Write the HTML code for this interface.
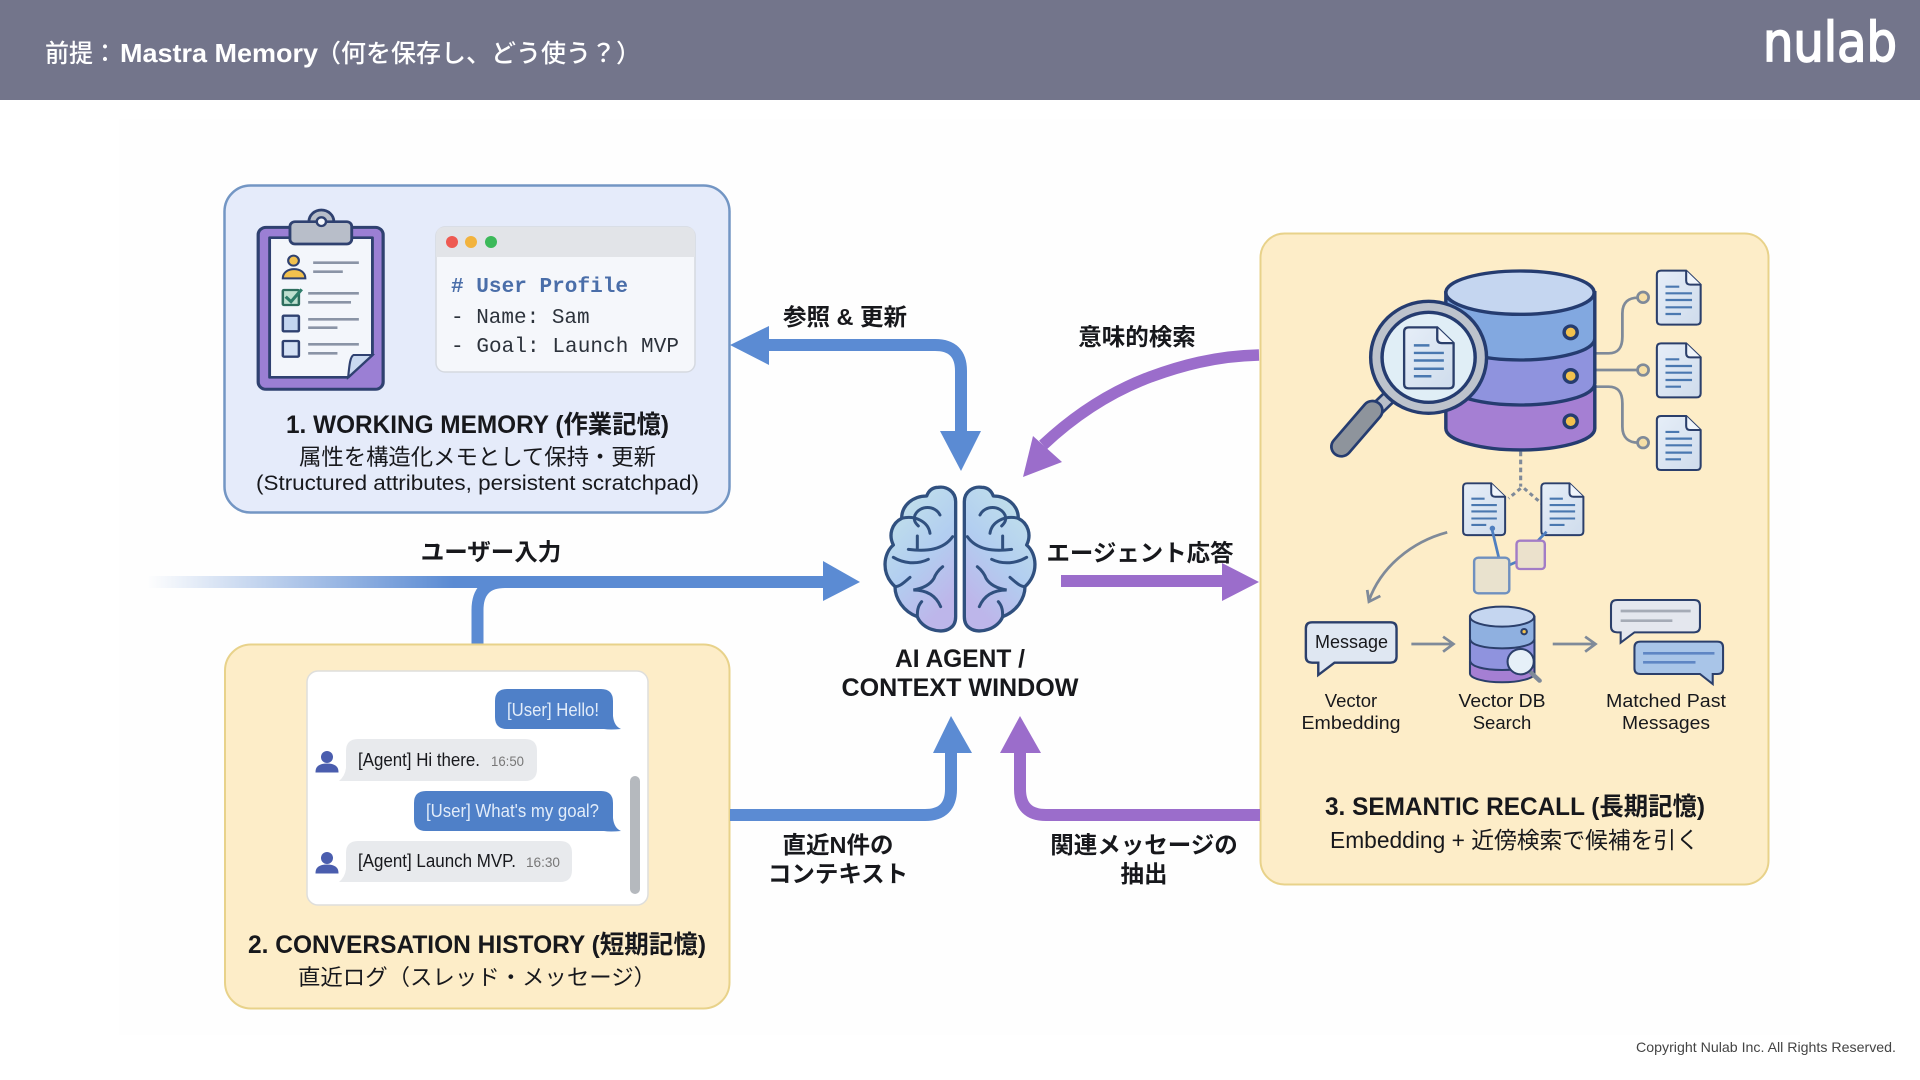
<!DOCTYPE html>
<html lang="ja"><head><meta charset="utf-8"><title>Mastra Memory</title>
<style>
html,body{margin:0;padding:0;background:#fff;width:1920px;height:1080px;overflow:hidden}
svg{display:block}
text{font-family:"Liberation Sans","Noto Sans CJK JP",sans-serif;fill:#17181c}
.b{font-weight:700}
.m{font-family:"Liberation Mono",monospace;font-size:21px;fill:#2C323B}
</style></head><body>
<svg width="1920" height="1080" viewBox="0 0 1920 1080" xmlns="http://www.w3.org/2000/svg">
<defs>
<linearGradient id="fade" x1="0" x2="1" y1="0" y2="0"><stop offset="0" stop-color="#5B8BD3" stop-opacity="0"/><stop offset=".45" stop-color="#5B8BD3"/><stop offset="1" stop-color="#5B8BD3"/></linearGradient>
<linearGradient id="brainf" x1="0" x2=".5" y1="0" y2="1"><stop offset="0" stop-color="#C6E6E9"/><stop offset=".6" stop-color="#B2CEF0"/><stop offset="1" stop-color="#BDB6EA"/></linearGradient>
<linearGradient id="docf" x1="0" x2="1" y1="0" y2="1"><stop offset="0" stop-color="#E6EEF8"/><stop offset="1" stop-color="#CFDCEC"/></linearGradient>
<g id="doc">
<path d="M12 0H85L127 42V150Q127 162 115 162H12Q0 162 0 150V12Q0 0 12 0Z" fill="url(#docf)" stroke="#2B3F6B" stroke-width="6"/>
<path d="M85 0V30Q85 42 97 42H127" fill="#F0F5FB" stroke="#2B3F6B" stroke-width="6"/>
<path d="M25 48H65M25 68H102M25 88H102M25 110H102M25 130H70" stroke="#4A78B0" stroke-width="6.500" fill="none"/>
</g>
<g id="brainhalf">
<path d="M287 95C287 65 260 48 235 52C215 52 205 65 200 78C160 78 125 105 125 145C95 160 85 195 100 225C70 250 62 310 105 350C105 385 130 425 172 440C185 475 240 495 270 475C282 468 287 455 287 440Z" fill="url(#brainf)" stroke="#30507F" stroke-width="10" stroke-linejoin="round"/>
<path d="M240 135C225 105 180 105 165 135C160 150 165 158 175 168M125 145C165 135 205 155 210 190M278 200C250 240 200 245 145 238M172 198V235M100 262C130 280 170 285 205 268M105 350C120 350 135 335 150 322M248 290C235 300 225 315 222 325C210 345 190 355 160 360C190 360 225 370 242 410M185 395C172 410 172 425 172 440" fill="none" stroke="#30507F" stroke-width="9" stroke-linecap="round"/>
</g>
</defs>

<rect width="1920" height="1080" fill="#fff"/>
<rect x="119" y="119" width="1681" height="916" fill="#FEFEFE"/>
<rect width="1920" height="100" fill="#73758B"/>
<text x="45" y="62" font-size="25" textLength="72" lengthAdjust="spacingAndGlyphs" style="fill:#fff;font-weight:500">前提：</text>
<text x="120" y="62" font-size="26" textLength="198" lengthAdjust="spacingAndGlyphs" style="fill:#fff;font-weight:700">Mastra Memory</text>
<text x="316" y="62" font-size="25" textLength="325" lengthAdjust="spacingAndGlyphs" style="fill:#fff;font-weight:500">（何を保存し、どう使う？）</text>
<text x="1763" y="61" font-size="54" textLength="134" lengthAdjust="spacingAndGlyphs" style="font-family:'DejaVu Sans',sans-serif;fill:#fff;stroke:#fff;stroke-width:1.800">nulab</text>
<text x="1636" y="1052" font-size="14" textLength="260" lengthAdjust="spacingAndGlyphs" style="fill:#444">Copyright  Nulab Inc. All Rights Reserved.</text>

<!-- Box 1 -->
<rect x="224.500" y="185.500" width="505" height="327" rx="26" fill="#E5EBFA" stroke="#7396C4" stroke-width="2.500"/>
<g transform="translate(200,170) scale(.357,.3333)">
<rect x="163" y="172" width="350" height="486" rx="22" fill="#9B7FD4" stroke="#2F4170" stroke-width="9"/>
<path d="M195 203H483V555L415 622H195Z" fill="#F3F6FB" stroke="#2F4170" stroke-width="8" stroke-linejoin="round"/>
<path d="M483 555L415 622C418 590 420 560 430 555Z" fill="#C9D9F0" stroke="#2F4170" stroke-width="6"/>
<circle cx="340" cy="155" r="35" fill="#B8BEC9" stroke="#2F4170" stroke-width="8"/>
<rect x="252" y="155" width="173" height="67" rx="14" fill="#B8BEC9" stroke="#2F4170" stroke-width="8"/>
<circle cx="340" cy="155" r="13" fill="#F3F6FB" stroke="#2F4170" stroke-width="7"/>
<circle cx="262" cy="272" r="15" fill="#F2C14E" stroke="#2F4170" stroke-width="6"/>
<path d="M232 325C232 288 295 288 295 325Z" fill="#F2C14E" stroke="#2F4170" stroke-width="6"/>
<rect x="232" y="360" width="45" height="45" rx="3" fill="#BFE0D0" stroke="#2E6E5E" stroke-width="7"/>
<path d="M240 380L255 395L285 358" fill="none" stroke="#2E7D6A" stroke-width="9"/>
<rect x="232" y="437" width="45" height="47" rx="3" fill="#C3D5F0" stroke="#2F4170" stroke-width="7"/>
<rect x="232" y="513" width="45" height="47" rx="3" fill="#D5E2F5" stroke="#2F4170" stroke-width="7"/>
<path d="M317 278H445M317 305H400M303 370H445M303 397H423M303 448H445M303 473H385M303 523H445M303 550H385" stroke="#8A94A6" stroke-width="8" fill="none"/>
</g>
<rect x="436" y="227" width="259" height="145" rx="9" fill="#F5F7FB" stroke="#D5D9E0" stroke-width="1.500"/>
<path d="M436 257V236Q436 227 445 227H686Q695 227 695 236V257Z" fill="#E2E4E8"/>
<circle cx="452" cy="242" r="6" fill="#EE5A52"/><circle cx="471" cy="242" r="6" fill="#F2B33D"/><circle cx="491" cy="242" r="6" fill="#3CB95A"/>
<text x="451" y="292" class="m" style="font-weight:700;fill:#4A6EA9" textLength="177"># User Profile</text>
<text x="451" y="323" class="m">- Name: Sam</text>
<text x="451" y="352" class="m" textLength="228">- Goal: Launch MVP</text>
<text x="286" y="433" class="b" font-size="25" textLength="383" lengthAdjust="spacingAndGlyphs">1. WORKING MEMORY (作業記憶)</text>
<text x="299" y="465" font-size="22.500" textLength="357" lengthAdjust="spacingAndGlyphs">属性を構造化メモとして保持・更新</text>
<text x="256" y="490" font-size="21.500" textLength="443" lengthAdjust="spacingAndGlyphs">(Structured attributes, persistent scratchpad)</text>

<!-- Box 2 -->
<path d="M477.500 650V610Q477.500 582 505 582H830" fill="none" stroke="#5B8BD3" stroke-width="12"/>
<rect x="225" y="644.500" width="504.500" height="364" rx="26" fill="#FDEDC8" stroke="#E8D28A" stroke-width="2"/>
<rect x="307" y="671" width="341" height="234" rx="11" fill="#fff" stroke="#DEDEDC" stroke-width="1.500"/>
<path d="M495 701Q495 689 507 689H601Q613 689 613 701V716Q614 726 621 729Q610 730 604 729H507Q495 729 495 717Z" fill="#4F80C8"/>
<text x="507" y="716" font-size="18" textLength="92" lengthAdjust="spacingAndGlyphs" style="fill:#E2ECF9">[User] Hello!</text>
<path d="M346 751Q346 739 358 739H525Q537 739 537 751V769Q537 781 525 781H339Q345 776 346 768Z" fill="#E8EAED"/>
<text x="358" y="766" font-size="18" textLength="122" lengthAdjust="spacingAndGlyphs">[Agent] Hi there.</text>
<text x="491" y="766" font-size="14" textLength="33" lengthAdjust="spacingAndGlyphs" style="fill:#777">16:50</text>
<circle cx="327" cy="757" r="6" fill="#4A5DAE"/><path d="M316 772Q316 764 327 764Q338 764 338 772Z" fill="#4A5DAE" stroke="#4A5DAE"/>
<path d="M414 803Q414 791 426 791H601Q613 791 613 803V818Q614 828 621 831Q610 832 604 831H426Q414 831 414 819Z" fill="#4F80C8"/>
<text x="426" y="817" font-size="18" textLength="173" lengthAdjust="spacingAndGlyphs" style="fill:#E2ECF9">[User] What's my goal?</text>
<path d="M346 853Q346 841 358 841H560Q572 841 572 853V870Q572 882 560 882H339Q345 877 346 869Z" fill="#E8EAED"/>
<text x="358" y="867" font-size="18" textLength="158" lengthAdjust="spacingAndGlyphs">[Agent] Launch MVP.</text>
<text x="526" y="867" font-size="14" textLength="34" lengthAdjust="spacingAndGlyphs" style="fill:#777">16:30</text>
<circle cx="327" cy="858" r="6" fill="#4A5DAE"/><path d="M316 873Q316 865 327 865Q338 865 338 873Z" fill="#4A5DAE" stroke="#4A5DAE"/>
<rect x="630" y="776" width="10" height="118" rx="5" fill="#B5B9BE"/>
<text x="248" y="953" class="b" font-size="25" textLength="458" lengthAdjust="spacingAndGlyphs">2. CONVERSATION HISTORY (短期記憶)</text>
<text x="298" y="985" font-size="22" textLength="358" lengthAdjust="spacingAndGlyphs">直近ログ（スレッド・メッセージ）</text>

<!-- Box 3 -->
<rect x="1260.500" y="233.500" width="508" height="651" rx="24" fill="#FDEDC8" stroke="#E8D28A" stroke-width="2"/>
<g transform="translate(1250,220) scale(.3448,.3333)">
<g fill="none" stroke="#7F8A99" stroke-width="8">
<path d="M1000 400H1040C1070 400 1080 380 1080 350V280C1080 245 1100 233 1125 233"/>
<path d="M1000 450H1125"/>
<path d="M1000 500H1040C1070 500 1080 520 1080 550V620C1080 655 1100 668 1125 668"/>
<circle cx="1140" cy="232" r="16" fill="#F6DFA6"/><circle cx="1140" cy="450" r="16" fill="#F6DFA6"/><circle cx="1140" cy="668" r="16" fill="#F6DFA6"/>
<path d="M785 695V800" stroke-dasharray="14 10" stroke-width="9"/>
<path d="M785 805L750 835M795 805L845 850" stroke-dasharray="12 10" stroke-width="9"/>
</g>
<use href="#doc" x="1180" y="152"/><use href="#doc" x="1180" y="370"/><use href="#doc" x="1180" y="588"/>
<g stroke="#253C70" stroke-width="10">
<path d="M568 500V625C568 665 680 690 783 690C890 690 1000 665 1000 625V500Z" fill="#A57FD3"/>
<path d="M568 360V490C568 530 680 555 783 555C890 555 1000 530 1000 490V360Z" fill="#8F93DE"/>
<path d="M568 218V355C568 395 680 420 783 420C890 420 1000 395 1000 355V218Z" fill="#82A8E0"/>
<ellipse cx="783" cy="218" rx="215" ry="65" fill="#C5D6F0"/>
<circle cx="930" cy="337" r="19" fill="#F2C14E"/><circle cx="930" cy="468" r="19" fill="#F2C14E"/><circle cx="930" cy="604" r="19" fill="#F2C14E"/>
</g>
<path d="M400 535L370 565" stroke="#253C70" stroke-width="46"/>
<path d="M400 535L370 565" stroke="#B8BEC9" stroke-width="30"/>
<path d="M355 572L265 680" stroke="#253C70" stroke-width="66" stroke-linecap="round"/>
<path d="M355 572L265 680" stroke="#8E949C" stroke-width="50" stroke-linecap="round"/>
<circle cx="518" cy="412" r="168" fill="#BDC3CC" stroke="#253C70" stroke-width="10"/>
<circle cx="518" cy="412" r="135" fill="#E0EEF6" stroke="#253C70" stroke-width="10"/>
<use href="#doc" transform="translate(447,322) scale(1.13)"/>
<use href="#doc" transform="translate(618,790) scale(.96)"/>
<use href="#doc" transform="translate(845,790) scale(.96)"/>
</g>
<g transform="translate(1250,470) scale(.3448,.3333)">
<path d="M700 170L722 265M752 285L775 275M835 212L860 185" stroke="#4F7FC0" stroke-width="8" fill="none"/>
<circle cx="703" cy="175" r="8" fill="#4F7FC0"/>
<rect x="650" y="263" width="102" height="107" rx="12" fill="#E9E2CE" stroke="#6F90BF" stroke-width="7"/>
<rect x="773" y="212" width="82" height="85" rx="10" fill="#EBE1CC" stroke="#A27CC6" stroke-width="7"/>
<path d="M572 187C470 215 380 290 345 392M340 360L345 395L378 378" fill="none" stroke="#7F8A99" stroke-width="8"/>
<path d="M180 457H407Q425 457 425 475V560Q425 578 407 578H245L198 615V578H180Q162 578 162 560V475Q162 457 180 457Z" fill="#DFE7F2" stroke="#2B3F6B" stroke-width="7"/>
<path d="M468 522H585M560 500L590 522L560 545M878 522H997M972 500L1002 522L972 545" fill="none" stroke="#7F8A99" stroke-width="8"/>
<g stroke="#2B3F6B" stroke-width="6">
<path d="M638 575V610C638 625 680 637 731 637C782 637 825 625 825 610V575Z" fill="#A57FD3"/>
<path d="M638 510V570C638 590 680 600 731 600C782 600 825 590 825 570V510Z" fill="#8F93DE"/>
<path d="M638 440V505C638 525 680 535 731 535C782 535 825 525 825 505V440Z" fill="#8FB0E0"/>
<ellipse cx="731" cy="440" rx="93" ry="30" fill="#C5D6F0"/>
<circle cx="795" cy="485" r="8" fill="#F2C14E"/>
</g>
<path d="M812 605L840 632" stroke="#7F8A99" stroke-width="13" stroke-linecap="round"/>
<circle cx="785" cy="575" r="38" fill="#E6F0F8" stroke="#2B3F6B" stroke-width="6"/>
<path d="M1065 390H1288Q1305 390 1305 407V470Q1305 487 1288 487H1115L1075 518V487H1065Q1047 487 1047 470V407Q1047 390 1065 390Z" fill="#E4E7EE" stroke="#2B3F6B" stroke-width="6"/>
<path d="M1075 423H1278M1075 452H1225" stroke="#A5ABB6" stroke-width="8"/>
<path d="M1133 515H1355Q1372 515 1372 532V595Q1372 612 1355 612H1342V642L1305 612H1133Q1115 612 1115 595V532Q1115 515 1133 515Z" fill="#A9C5E8" stroke="#2B3F6B" stroke-width="6"/>
<path d="M1140 550H1347M1140 577H1292" stroke="#5F86C4" stroke-width="8"/>
</g>
<text x="1315" y="648" font-size="18" textLength="73" lengthAdjust="spacingAndGlyphs">Message</text>
<g font-size="18.500" text-anchor="middle">
<text x="1351" y="707">Vector</text><text x="1351" y="729" textLength="99" lengthAdjust="spacingAndGlyphs">Embedding</text>
<text x="1502" y="707" textLength="87" lengthAdjust="spacingAndGlyphs">Vector DB</text><text x="1502" y="729">Search</text>
<text x="1666" y="707" textLength="120" lengthAdjust="spacingAndGlyphs">Matched Past</text><text x="1666" y="729" textLength="88" lengthAdjust="spacingAndGlyphs">Messages</text>
</g>
<text x="1325" y="815" class="b" font-size="25" textLength="380" lengthAdjust="spacingAndGlyphs">3. SEMANTIC RECALL (長期記憶)</text>
<text x="1330" y="848" font-size="23" textLength="369" lengthAdjust="spacingAndGlyphs">Embedding + 近傍検索で候補を引く</text>

<!-- Arrows -->
<path d="M760 345H935Q961 345 961 371V435" fill="none" stroke="#5B8BD3" stroke-width="12"/>
<polygon points="730,345 769,326 769,365" fill="#5B8BD3"/>
<polygon points="961,471 940,431 981,431" fill="#5B8BD3"/>
<path d="M1259 355C1215 356 1180 366 1150 377C1110 392 1075 415 1043 445" fill="none" stroke="#9B6DCB" stroke-width="11.500"/>
<polygon points="1023,477 1033,436 1062,462" fill="#9B6DCB"/>
<rect x="147" y="576" width="680" height="12" fill="url(#fade)"/>
<polygon points="860,582 823,561 823,601" fill="#5B8BD3"/>
<path d="M1061 581H1225" stroke="#9B6DCB" stroke-width="12" fill="none"/>
<polygon points="1259,582 1222,563 1222,601" fill="#9B6DCB"/>
<path d="M730 815H925Q951 815 951 789V750" fill="none" stroke="#5B8BD3" stroke-width="12"/>
<polygon points="951,716 933,753 972,753" fill="#5B8BD3"/>
<path d="M1260 815H1046Q1020 815 1020 789V750" fill="none" stroke="#9B6DCB" stroke-width="12"/>
<polygon points="1020,716 1000,753 1041,753" fill="#9B6DCB"/>

<!-- Brain -->
<g transform="translate(860,470) scale(.3333)">
<use href="#brainhalf"/>
<use href="#brainhalf" transform="translate(600,0) scale(-1,1)"/>
</g>
<text x="960" y="667" class="b" font-size="25" text-anchor="middle" textLength="130" lengthAdjust="spacingAndGlyphs">AI AGENT /</text>
<text x="960" y="696" class="b" font-size="25" text-anchor="middle" textLength="237" lengthAdjust="spacingAndGlyphs">CONTEXT WINDOW</text>

<!-- Connector labels -->
<g class="b" font-size="23.500" font-weight="700" text-anchor="middle">
<text x="845" y="325" font-weight="700">参照 &amp; 更新</text>
<text x="1137" y="345" font-weight="700">意味的検索</text>
<text x="491" y="560" font-weight="700">ユーザー入力</text>
<text x="1140" y="561" font-weight="700" textLength="187" lengthAdjust="spacingAndGlyphs">エージェント応答</text>
<text x="838" y="853" font-weight="700">直近N件の</text>
<text x="838" y="882" font-weight="700">コンテキスト</text>
<text x="1144" y="853" font-weight="700">関連メッセージの</text>
<text x="1144" y="882" font-weight="700">抽出</text>
</g>
</svg>
</body></html>
